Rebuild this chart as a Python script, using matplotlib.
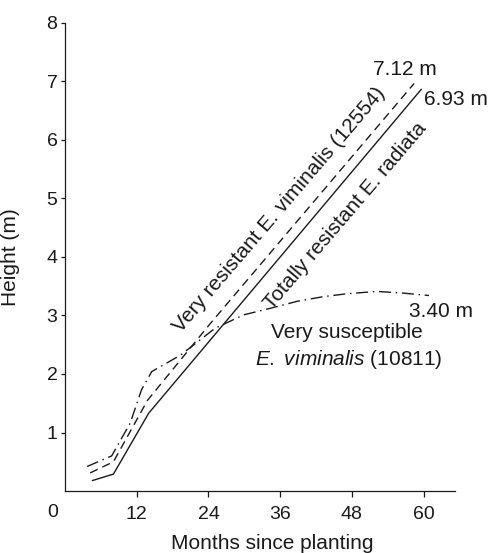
import matplotlib
matplotlib.use('Agg')
import matplotlib.pyplot as plt

plt.rcParams['font.family'] = ['Liberation Sans', 'DejaVu Sans']
plt.rcParams['mathtext.fontset'] = 'custom'
plt.rcParams['mathtext.rm'] = 'Liberation Sans'
plt.rcParams['mathtext.it'] = 'Liberation Sans:italic'
plt.rcParams['lines.scale_dashes'] = False

# data (months since planting, height in m)
radiata_months = [4.6, 8.1, 14.0, 59.6]
radiata_height = [0.18, 0.29, 1.33, 6.86]

vim12554_months = [4.2, 8.1, 13.8, 24.3, 58.4]
vim12554_height = [0.31, 0.50, 1.55, 2.86, 6.96]

vim10811_months = [3.7, 7.8, 10.9, 12.8, 14.5, 19.3, 25.1, 29.9, 34.3, 38.8, 43.2, 47.2, 52.2, 56.7, 60.9]
vim10811_height = [0.42, 0.60, 1.16, 1.73, 2.04, 2.32, 2.78, 3.01, 3.12, 3.24, 3.32, 3.37, 3.41, 3.38, 3.34]

xticks = [12, 24, 36, 48, 60]
yticks = [1, 2, 3, 4, 5, 6, 7, 8]

ink = '#1a1a1a'
fs = 15
tfs = 14

fig = plt.figure(figsize=(4.89, 5.53), dpi=100)
ax = fig.add_axes([0.133, 0.112, 0.798, 0.847])

ax.plot(radiata_months, radiata_height, color=ink, lw=1.0)
ax.plot(vim12554_months, vim12554_height, color=ink, lw=1.0, dashes=(6.0, 3.8))
ax.plot(vim10811_months, vim10811_height, color=ink, lw=1.0, dashes=(8.6, 3.4, 1.1, 3.4))

ax.set_xlim(0, 65.3)
ax.set_ylim(0, 8)
ax.spines['top'].set_visible(False)
ax.spines['right'].set_visible(False)
for s in ['left', 'bottom']:
    ax.spines[s].set_linewidth(0.9)
    ax.spines[s].set_color(ink)

ax.set_xticks(xticks)
ax.set_yticks(yticks)
ax.tick_params(axis='x', length=4, width=0.9, pad=7, labelsize=tfs, colors=ink)
ax.tick_params(axis='y', length=3, width=0.9, pad=2.5, labelsize=tfs, colors=ink)
ax.text(-2.1, -0.046, '0', transform=ax.get_xaxis_transform(), ha='center', va='center',
        fontsize=tfs, color=ink)

ax.set_xlabel('Months since planting', fontsize=fs, color=ink)
ax.xaxis.set_label_coords(0.532, -0.091)
ax.set_ylabel('Height (m)', fontsize=fs, color=ink)
ax.yaxis.set_label_coords(-0.115, 0.5)

# line labels
ax.text(35.8, 4.80, 'Very resistant E. viminalis (12554)', rotation=49.5, rotation_mode='anchor',
        ha='center', va='center', fontsize=fs, color=ink)
ax.text(47.0, 4.70, 'Totally resistant E. radiata', rotation=49.5, rotation_mode='anchor',
        ha='center', va='center', fontsize=fs, color=ink)
ax.text(51.6, 7.20, '7.12 m', ha='left', va='center', fontsize=fs, color=ink)
ax.text(60.1, 6.69, '6.93 m', ha='left', va='center', fontsize=fs, color=ink)
ax.text(57.5, 3.07, '3.40 m', ha='left', va='center', fontsize=fs, color=ink)
ax.text(47.2, 2.70, 'Very susceptible', ha='center', va='center', fontsize=fs, color=ink)
ax.text(47.5, 2.24, r'$\it{E.\ viminalis}$ (10811)', ha='center', va='center', fontsize=fs, color=ink)

fig.savefig('out.png', dpi=100)
